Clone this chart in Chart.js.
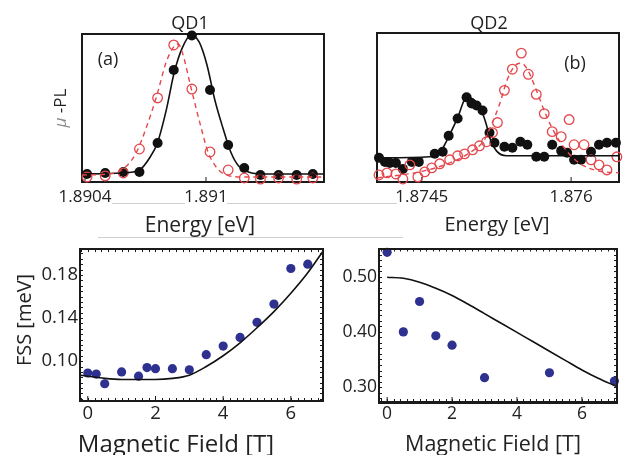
<!DOCTYPE html>
<html>
<head>
<meta charset="utf-8">
<script src="https://cdn.jsdelivr.net/npm/chart.js@4.4.1/dist/chart.umd.min.js"></script>
<style>
    body { margin: 0; background: #fff; }
    #lienzo { position: relative; width: 625px; height: 455px; overflow: hidden; font-family: "Open Sans", sans-serif; color: #222; }
    canvas { position: absolute; }
    .txt { position: absolute; transform: translate(-50%, -50%); white-space: nowrap; line-height: 1; }
    .rot { transform: translate(-50%, -50%) rotate(-90deg); }
    .linea { position: absolute; height: 1px; background: #cfcfcf; }
    .marco { position: absolute; box-sizing: border-box; border: 2px solid #1a1a1a; pointer-events: none; z-index: 5; }
</style>
</head>
<body>
<div id="lienzo">
    <div class="linea" style="left:112px; top:203px; width:73px;"></div>
    <div class="linea" style="left:227px; top:203px; width:170px;"></div>
    <div class="linea" style="left:98px; top:237px; width:305px;"></div>

    <canvas id="graficoQD1" width="330" height="215" style="left:0; top:0;"></canvas>
    <canvas id="graficoQD2" width="295" height="215" style="left:330px; top:0;"></canvas>
    <canvas id="graficoFSS1" width="330" height="215" style="left:0; top:236px;"></canvas>
    <canvas id="graficoFSS2" width="295" height="215" style="left:330px; top:236px;"></canvas>

    <!-- marcos de los paneles inferiores -->
    <div class="marco" style="left:79px; top:248px; width:245px; height:154px;"></div>
    <div class="marco" style="left:378px; top:248px; width:240px; height:155px;"></div>

    <div class="txt" style="left:190px; top:22px; font-size:18px;">QD1</div>
    <div class="txt" style="left:489px; top:22px; font-size:18px;">QD2</div>
    <div class="txt" style="left:108px; top:58px; font-size:18px;">(a)</div>
    <div class="txt" style="left:575px; top:62px; font-size:18px;">(b)</div>
    <div class="txt rot" style="left:59px; top:108px; font-size:17px;"><span style="color:#8a8a8a; font-style:italic;">μ</span> -PL</div>
    <div class="txt" style="left:200px; top:224px; font-size:21px;">Energy [eV]</div>
    <div class="txt" style="left:497px; top:224px; font-size:20px;">Energy [eV]</div>
    <div class="txt rot" style="left:24px; top:320px; font-size:20px;">FSS [meV]</div>
    <div class="txt" style="left:176px; top:443px; font-size:24px;">Magnetic Field [T]</div>
    <div class="txt" style="left:493px; top:443px; font-size:21.5px;">Magnetic Field [T]</div>
</div>

<script>
// ============================================
// DATOS
// ============================================

// QD1 - espectros (a)
const qd1Energia = [1.89041, 1.89050, 1.89059, 1.89067, 1.89076, 1.89084, 1.89093, 1.89102, 1.89111, 1.89119, 1.89127, 1.89136, 1.89145, 1.89153];
const qd1Negro = [0.054, 0.061, 0.068, 0.068, 0.264, 0.757, 0.990, 0.622, 0.250, 0.095, 0.047, 0.047, 0.047, 0.054];
const qd1Rojo = [0.034, 0.041, 0.061, 0.223, 0.568, 0.926, 0.628, 0.203, 0.081, 0.027, 0.020, 0.027, 0.020, 0.027];

const qd1AjusteNegroE = [1.890385, 1.890582, 1.890670, 1.890720, 1.890759, 1.890803, 1.890843, 1.890882, 1.890926, 1.890966, 1.891005, 1.891044, 1.891084, 1.891123, 1.891162, 1.891211, 1.891285, 1.891585];
const qd1AjusteNegro = [0.054, 0.061, 0.081, 0.162, 0.264, 0.486, 0.743, 0.905, 0.993, 0.946, 0.791, 0.554, 0.365, 0.203, 0.108, 0.068, 0.054, 0.054];
const qd1AjusteRojoE = [1.890385, 1.890548, 1.890611, 1.890656, 1.890705, 1.890754, 1.890803, 1.890843, 1.890862, 1.890882, 1.890926, 1.890975, 1.891010, 1.891054, 1.891103, 1.891187, 1.891585];
const qd1AjusteRojo = [0.047, 0.061, 0.115, 0.203, 0.372, 0.574, 0.811, 0.919, 0.932, 0.878, 0.635, 0.372, 0.203, 0.095, 0.047, 0.034, 0.034];

// QD2 - espectros (b)
const qd2NegroE = [1.87407, 1.87413, 1.87418, 1.87424, 1.87431, 1.87440, 1.87447, 1.87463, 1.87471, 1.87477, 1.87486, 1.87495, 1.87500, 1.87505, 1.87511, 1.87518, 1.87523, 1.87533, 1.87541, 1.87549, 1.87556, 1.87565, 1.87573, 1.87581, 1.87590, 1.87596, 1.87603, 1.87610, 1.87620, 1.87628, 1.87636, 1.87645];
const qd2Negro = [0.162, 0.135, 0.128, 0.128, 0.088, 0.135, 0.135, 0.189, 0.203, 0.311, 0.426, 0.568, 0.527, 0.514, 0.480, 0.331, 0.264, 0.236, 0.230, 0.270, 0.250, 0.169, 0.169, 0.250, 0.209, 0.196, 0.149, 0.149, 0.203, 0.250, 0.264, 0.264];
const qd2RojoE = [1.87407, 1.87415, 1.87424, 1.87431, 1.87438, 1.87446, 1.87453, 1.87460, 1.87468, 1.87478, 1.87486, 1.87493, 1.87501, 1.87508, 1.87515, 1.87521, 1.87526, 1.87533, 1.87541, 1.87550, 1.87557, 1.87565, 1.87573, 1.87581, 1.87590, 1.87598, 1.87603, 1.87613, 1.87620, 1.87628, 1.87636, 1.87646];
const qd2Rojo = [0.047, 0.061, 0.054, 0.020, 0.115, 0.034, 0.068, 0.095, 0.122, 0.149, 0.176, 0.189, 0.216, 0.243, 0.270, 0.331, 0.399, 0.615, 0.757, 0.865, 0.723, 0.588, 0.459, 0.338, 0.304, 0.419, 0.250, 0.250, 0.149, 0.115, 0.081, 0.169];

const qd2AjusteNegroE = [1.87405, 1.87458, 1.87468, 1.87477, 1.87486, 1.87495, 1.87502, 1.87508, 1.87514, 1.87519, 1.87525, 1.87535, 1.87648];
const qd2AjusteNegro = [0.162, 0.169, 0.196, 0.304, 0.432, 0.568, 0.554, 0.507, 0.405, 0.284, 0.209, 0.176, 0.176];
const qd2AjusteRojoE = [1.87405, 1.87448, 1.87478, 1.87498, 1.87513, 1.87520, 1.87528, 1.87536, 1.87544, 1.87550, 1.87556, 1.87564, 1.87575, 1.87585, 1.87598, 1.87611, 1.87628, 1.87648];
const qd2AjusteRojo = [0.027, 0.068, 0.128, 0.196, 0.284, 0.385, 0.520, 0.689, 0.784, 0.797, 0.757, 0.635, 0.446, 0.311, 0.189, 0.115, 0.074, 0.061];

// FSS vs campo magnetico
const fss1Campo = [0, 0.25, 0.5, 1, 1.5, 1.75, 2, 2.5, 3, 3.5, 4, 4.5, 5, 5.5, 6, 6.5];
const fss1Valor = [0.089, 0.088, 0.079, 0.090, 0.086, 0.094, 0.093, 0.093, 0.092, 0.106, 0.114, 0.122, 0.136, 0.153, 0.186, 0.190];
const fss1TeoriaCampo = [-0.23, 0, 0.5, 1, 1.5, 2, 2.5, 3, 3.5, 4, 4.5, 5, 5.5, 6, 6.5, 6.95];
const fss1Teoria = [0.087, 0.086, 0.084, 0.083, 0.083, 0.083, 0.084, 0.087, 0.095, 0.105, 0.117, 0.131, 0.146, 0.163, 0.182, 0.202];

const fss2Campo = [0, 0.5, 1, 1.5, 2, 3, 5, 7];
const fss2Valor = [0.544, 0.400, 0.455, 0.393, 0.376, 0.317, 0.326, 0.311];
const fss2TeoriaCampo = [0, 0.5, 1, 1.5, 2, 2.5, 3, 3.5, 4, 4.5, 5, 5.5, 6, 6.5, 7, 7.08];
const fss2Teoria = [0.499, 0.497, 0.490, 0.479, 0.466, 0.450, 0.433, 0.416, 0.399, 0.382, 0.365, 0.348, 0.331, 0.316, 0.303, 0.301];

// Marcas de los ejes
const ticksQD1 = [1.8904, 1.891];
const ticksQD2 = [1.8745, 1.876];
const ticksCampo = [0, 2, 4, 6];
const ticksFSS1 = [0.10, 0.14, 0.18];
const ticksFSS2 = [0.30, 0.40, 0.50];

// ============================================
// UTILIDADES
// ============================================

const FUENTE = '"Open Sans", sans-serif';
const NEGRO = '#111';
const ROJO = '#e4474c';
const AZUL = '#2f3190';

function pares(xs, ys) {
    return xs.map((x, i) => ({ x: x, y: ys[i] }));
}

function fijarTicks(valores) {
    return function(scale) {
        scale.ticks = valores.map(v => ({ value: v }));
    };
}

// Marco + marcas cortas hacia dentro, dibujado antes de los datos
function pluginMarco(opciones) {
    return {
        id: 'marco',
        beforeDatasetsDraw(chart) {
            const ctx = chart.ctx;
            const a = chart.chartArea;
            const sx = chart.scales.x;
            const sy = chart.scales.y;
            ctx.save();
            ctx.strokeStyle = '#1a1a1a';
            ctx.lineWidth = 2;
            ctx.strokeRect(Math.round(a.left), Math.round(a.top), Math.round(a.right - a.left), Math.round(a.bottom - a.top));

            ctx.lineWidth = 1;
            if (opciones.menoresX) {
                const paso = opciones.menoresX;
                for (let i = Math.ceil(sx.min / paso); i * paso <= sx.max; i++) {
                    const px = Math.round(sx.getPixelForValue(i * paso)) + 0.5;
                    ctx.beginPath();
                    ctx.moveTo(px, a.bottom); ctx.lineTo(px, a.bottom - 3);
                    ctx.moveTo(px, a.top); ctx.lineTo(px, a.top + 3);
                    ctx.stroke();
                }
            }
            if (opciones.menoresY) {
                const paso = opciones.menoresY;
                for (let i = Math.ceil(sy.min / paso); i * paso <= sy.max; i++) {
                    const py = Math.round(sy.getPixelForValue(i * paso)) + 0.5;
                    ctx.beginPath();
                    ctx.moveTo(a.left, py); ctx.lineTo(a.left + 3, py);
                    ctx.moveTo(a.right, py); ctx.lineTo(a.right - 3, py);
                    ctx.stroke();
                }
            }
            // marcas principales del eje x
            sx.ticks.forEach(t => {
                const px = sx.getPixelForValue(t.value);
                ctx.beginPath();
                ctx.moveTo(px, a.bottom); ctx.lineTo(px, a.bottom - 5);
                ctx.stroke();
            });
            ctx.restore();
        }
    };
}

function ejeX(min, max, ticks, alto, relleno, tamano) {
    return {
        type: 'linear',
        min: min,
        max: max,
        afterBuildTicks: fijarTicks(ticks),
        afterFit: s => { s.height = alto; },
        grid: { display: false, drawTicks: false },
        border: { display: false },
        ticks: {
            padding: relleno,
            color: '#222',
            maxRotation: 0,
            autoSkip: false,
            font: { family: FUENTE, size: tamano },
            callback: v => String(v)
        }
    };
}

function opcionesBase(padding, escalas) {
    return {
        responsive: false,
        animation: false,
        devicePixelRatio: 1,
        layout: { padding: padding },
        plugins: { legend: { display: false }, tooltip: { enabled: false } },
        scales: escalas
    };
}

// ============================================
// GRAFICOS
// ============================================

function renderizarEspectro(id, datos, ejes, padding) {
    new Chart(document.getElementById(id), {
        type: 'scatter',
        data: {
            datasets: [
                {
                    data: pares(datos.ajusteRojoE, datos.ajusteRojo),
                    showLine: true, pointRadius: 0,
                    borderColor: ROJO, borderWidth: 1.4, borderDash: [5, 4],
                    cubicInterpolationMode: 'monotone'
                },
                {
                    data: pares(datos.ajusteNegroE, datos.ajusteNegro),
                    showLine: true, pointRadius: 0,
                    borderColor: NEGRO, borderWidth: 1.6,
                    cubicInterpolationMode: 'monotone'
                },
                {
                    data: pares(datos.rojoE, datos.rojo),
                    pointRadius: 4.8, pointBorderWidth: 1.3,
                    pointBackgroundColor: 'rgba(255,255,255,0)', pointBorderColor: ROJO,
                    clip: false
                },
                {
                    data: pares(datos.negroE, datos.negro),
                    pointRadius: 5, pointBorderWidth: 0,
                    pointBackgroundColor: NEGRO,
                    clip: false
                }
            ]
        },
        options: opcionesBase(padding, {
            x: ejeX(ejes.min, ejes.max, ejes.ticks, 33, 5, 17),
            y: { display: false, min: 0, max: 1 }
        }),
        plugins: [pluginMarco({})]
    });
}

function renderizarFSS(id, datos, ejes, padding) {
    new Chart(document.getElementById(id), {
        type: 'scatter',
        data: {
            datasets: [
                {
                    data: pares(datos.teoriaCampo, datos.teoria),
                    showLine: true, pointRadius: 0,
                    borderColor: NEGRO, borderWidth: 1.6,
                    cubicInterpolationMode: 'monotone'
                },
                {
                    data: pares(datos.campo, datos.valor),
                    pointRadius: 4.6, pointBorderWidth: 0,
                    pointBackgroundColor: AZUL,
                    clip: false
                }
            ]
        },
        options: opcionesBase(padding, {
            x: ejeX(ejes.xMin, ejes.xMax, ticksCampo, ejes.altoX, 2, ejes.fuente),
            y: {
                type: 'linear',
                min: ejes.yMin,
                max: ejes.yMax,
                afterBuildTicks: fijarTicks(ejes.ticksY),
                afterFit: s => { s.width = ejes.anchoY; },
                grid: { display: false, drawTicks: false },
                border: { display: false },
                ticks: {
                    padding: 2,
                    color: '#222',
                    font: { family: FUENTE, size: ejes.fuente },
                    callback: v => v.toFixed(2)
                }
            }
        }),
        plugins: [pluginMarco({ menoresX: 0.2, menoresY: ejes.menoresY })]
    });
}

renderizarEspectro('graficoQD1', {
    negroE: qd1Energia, negro: qd1Negro,
    rojoE: qd1Energia, rojo: qd1Rojo,
    ajusteNegroE: qd1AjusteNegroE, ajusteNegro: qd1AjusteNegro,
    ajusteRojoE: qd1AjusteRojoE, ajusteRojo: qd1AjusteRojo
}, { min: 1.890385, max: 1.891585, ticks: ticksQD1 }, { left: 82, top: 34, right: 6, bottom: 0 });

renderizarEspectro('graficoQD2', {
    negroE: qd2NegroE, negro: qd2Negro,
    rojoE: qd2RojoE, rojo: qd2Rojo,
    ajusteNegroE: qd2AjusteNegroE, ajusteNegro: qd2AjusteNegro,
    ajusteRojoE: qd2AjusteRojoE, ajusteRojo: qd2AjusteRojo
}, { min: 1.87405, max: 1.87648, ticks: ticksQD2 }, { left: 47, top: 33, right: 5, bottom: 0 });

renderizarFSS('graficoFSS1', {
    campo: fss1Campo, valor: fss1Valor,
    teoriaCampo: fss1TeoriaCampo, teoria: fss1Teoria
}, {
    xMin: -0.23, xMax: 6.95, yMin: 0.063, yMax: 0.204,
    ticksY: ticksFSS1, anchoY: 80, altoX: 50, menoresY: 0.005, fuente: 18.5
}, { left: 0, top: 9, right: 7, bottom: 0 });

renderizarFSS('graficoFSS2', {
    campo: fss2Campo, valor: fss2Valor,
    teoriaCampo: fss2TeoriaCampo, teoria: fss2Teoria
}, {
    xMin: -0.25, xMax: 7.08, yMin: 0.273, yMax: 0.551,
    ticksY: ticksFSS2, anchoY: 49, altoX: 49, menoresY: 0.01, fuente: 17.5
}, { left: 0, top: 9, right: 8, bottom: 0 });
</script>
</body>
</html>
